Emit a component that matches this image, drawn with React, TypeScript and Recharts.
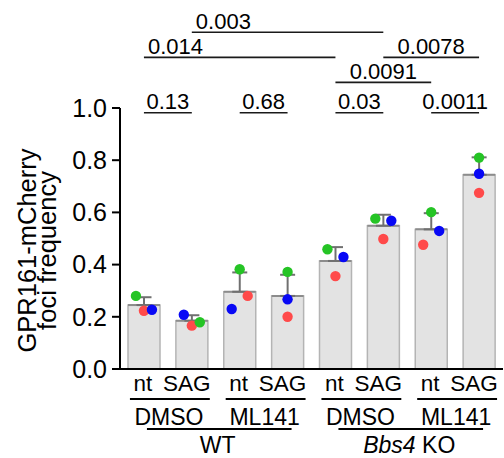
import React from 'react';
import {
  ComposedChart,
  Bar,
  ErrorBar,
  Scatter,
  XAxis,
  YAxis,
  ReferenceLine,
} from 'recharts';

// ---------- data ----------
const categories = [
  'WT DMSO nt',
  'WT DMSO SAG',
  'WT ML141 nt',
  'WT ML141 SAG',
  'KO DMSO nt',
  'KO DMSO SAG',
  'KO ML141 nt',
  'KO ML141 SAG',
];
const treatmentLabels = ['nt', 'SAG', 'nt', 'SAG', 'nt', 'SAG', 'nt', 'SAG'];

const means = [0.245, 0.185, 0.296, 0.28, 0.414, 0.549, 0.535, 0.744];
const sds = [0.03, 0.021, 0.074, 0.081, 0.053, 0.042, 0.062, 0.067];

const greenDots = [0.28, 0.179, 0.382, 0.372, 0.459, 0.576, 0.601, 0.81];
const redDots = [0.223, 0.166, 0.28, 0.2, 0.356, 0.498, 0.476, 0.675];
const blueDots = [0.227, 0.208, 0.23, 0.267, 0.429, 0.568, 0.529, 0.748];

// horizontal jitter slot of each replicate dot (-1 left, 0 centre, 1 right)
const greenSlot = [-1, 1, 0, 0, -1, -1, 0, 0];
const redSlot = [0, 0, 1, 0, 0, 0, -1, 0];
const blueSlot = [1, -1, -1, 0, 1, 1, 1, 0];

const yTicks = [0, 0.2, 0.4, 0.6, 0.8, 1.0];

// p-value brackets: category indices and bracket height (data units)
const pValueBrackets = [
  { from: 0, to: 1, level: 0.982, text: '0.13' },
  { from: 2, to: 3, level: 0.982, text: '0.68' },
  { from: 4, to: 5, level: 0.982, text: '0.03' },
  { from: 6, to: 7, level: 0.982, text: '0.0011' },
  { from: 4, to: 6, level: 1.098, text: '0.0091' },
  { from: 0, to: 4, level: 1.194, text: '0.014' },
  { from: 5, to: 7, level: 1.194, text: '0.0078' },
  { from: 1, to: 5, level: 1.29, text: '0.003' },
];

const drugGroups = [
  { from: 0, to: 1, text: 'DMSO' },
  { from: 2, to: 3, text: 'ML141' },
  { from: 4, to: 5, text: 'DMSO' },
  { from: 6, to: 7, text: 'ML141' },
];
const genotypeGroups = [
  { from: 0, to: 3, text: 'WT', italic: '' },
  { from: 4, to: 7, text: ' KO', italic: 'Bbs4' },
];

const chartData = categories.map((cat, i) => ({
  cat,
  mean: means[i],
  err: [0, sds[i]],
  green: greenDots[i],
  red: redDots[i],
  blue: blueDots[i],
  gs: greenSlot[i],
  rs: redSlot[i],
  bs: blueSlot[i],
}));

// ---------- styles ----------
const FONT = '"Liberation Sans", Arial, Helvetica, sans-serif';
const JITTER_PX = 8;
const DOT_R = 5.2;
const leftAligned = new Set(['0.014', '0.003']);
const DRUG_LINE_LEVEL = -0.115;
const GENO_LINE_LEVEL = -0.23;

const makeDot = (color: string, slotKey: string) => (p: any) => {
  if (p.cx == null || p.cy == null) return <g />;
  const slot = p.payload ? p.payload[slotKey] : 0;
  return <circle cx={p.cx + slot * JITTER_PX} cy={p.cy} r={DOT_R} fill={color} />;
};

const BarShape = (p: any) => {
  const { x, y, width, height } = p;
  if (x == null || y == null) return <g />;
  return (
    <g>
      <rect x={x} y={y} width={width} height={height} fill="#e3e3e3" stroke="#b4b4b4" strokeWidth={1.5} />
      <line x1={x} y1={y} x2={x + width} y2={y} stroke="#8c8c8c" strokeWidth={2} />
    </g>
  );
};

const pShape = (text: string) => (p: any) => {
  const { x1, y1, x2 } = p;
  const left = leftAligned.has(text);
  return (
    <g>
      <line x1={x1} y1={y1} x2={x2} y2={y1} stroke="#1a1a1a" strokeWidth={1.6} />
      <text
        x={left ? x1 + 4 : (x1 + x2) / 2}
        y={y1 - 3.5}
        textAnchor={left ? 'start' : 'middle'}
        fontSize={22}
        fill="#000"
        fontFamily={FONT}
      >
        {text}
      </text>
    </g>
  );
};

const drugShape = (text: string) => (p: any) => {
  const { x1, y1, x2 } = p;
  return (
    <g>
      <line x1={x1 - 14} y1={y1} x2={x2 + 18} y2={y1} stroke="#000" strokeWidth={2} />
      <text x={(x1 + x2) / 2 + 1} y={y1 + 26} textAnchor="middle" fontSize={23} fill="#000" fontFamily={FONT}>
        {text}
      </text>
    </g>
  );
};

const genoShape = (text: string, italic: string) => (p: any) => {
  const { x1, y1, x2 } = p;
  return (
    <g>
      <line x1={x1 + 3} y1={y1} x2={x2 + 4} y2={y1} stroke="#000" strokeWidth={2} />
      <text x={(x1 + x2) / 2 + 2} y={y1 + 24} textAnchor="middle" fontSize={23} fill="#000" fontFamily={FONT}>
        {italic ? <tspan fontStyle="italic">{italic}</tspan> : null}
        <tspan>{text}</tspan>
      </text>
    </g>
  );
};

const TreatmentTick = (props: any) => {
  const { x, y, payload } = props;
  const idx = categories.indexOf(payload.value);
  const label = treatmentLabels[idx];
  const dx = label === 'SAG' ? -5 : -1;
  return (
    <text x={x + dx} y={y + 21.5} textAnchor="middle" fontSize={22.5} fill="#000" fontFamily={FONT}>
      {label}
    </text>
  );
};

const YTitle = (props: any) => {
  const vb = props.viewBox || { x: 0, y: 108, width: 120, height: 261 };
  const cy = vb.y + vb.height / 2 + 12;
  const x1 = vb.x + 36;
  const x2 = vb.x + 56;
  return (
    <g>
      <text
        x={x1}
        y={cy}
        transform={`rotate(-90, ${x1}, ${cy})`}
        textAnchor="middle"
        fontSize={25.5}
        fill="#000"
        fontFamily={FONT}
      >
        GPR161-mCherry
      </text>
      <text
        x={x2}
        y={cy}
        transform={`rotate(-90, ${x2}, ${cy})`}
        textAnchor="middle"
        fontSize={25.5}
        fill="#000"
        fontFamily={FONT}
      >
        foci frequency
      </text>
    </g>
  );
};

export default function App() {
  return (
    <div style={{ position: 'absolute', left: 0, top: 0, width: 504, height: 458, background: '#fff', fontFamily: FONT }}>
      <ComposedChart
        width={504}
        height={458}
        data={chartData}
        margin={{ top: 108, right: 1, bottom: 59, left: 0 }}
      >
        <XAxis
          dataKey="cat"
          interval={0}
          tickLine={false}
          tickSize={0}
          tickMargin={0}
          height={30}
          axisLine={{ stroke: '#000', strokeWidth: 2 }}
          tick={<TreatmentTick />}
        />
        <YAxis
          width={120}
          domain={[0, 1]}
          ticks={yTicks}
          allowDataOverflow
          tickFormatter={(v: number) => v.toFixed(1)}
          tickSize={8}
          tickMargin={5}
          axisLine={{ stroke: '#000', strokeWidth: 2 }}
          tickLine={{ stroke: '#000', strokeWidth: 2 }}
          tick={{ fill: '#000', fontSize: 25, fontFamily: FONT }}
          label={{ content: YTitle }}
        />
        <Bar dataKey="mean" barSize={32} shape={BarShape} isAnimationActive={false}>
          <ErrorBar
            dataKey="err"
            direction="y"
            width={7.5}
            stroke="#707070"
            strokeWidth={2}
            isAnimationActive={false}
          />
        </Bar>
        <Scatter dataKey="red" shape={makeDot('#ff4a4a', 'rs')} isAnimationActive={false} />
        <Scatter dataKey="green" shape={makeDot('#25c425', 'gs')} isAnimationActive={false} />
        <Scatter dataKey="blue" shape={makeDot('#0808f5', 'bs')} isAnimationActive={false} />
        {pValueBrackets.map((b, i) => (
          <ReferenceLine
            key={'p' + i}
            segment={[
              { x: categories[b.from], y: b.level },
              { x: categories[b.to], y: b.level },
            ]}
            ifOverflow="visible"
            shape={pShape(b.text)}
          />
        ))}
        {drugGroups.map((g, i) => (
          <ReferenceLine
            key={'d' + i}
            segment={[
              { x: categories[g.from], y: DRUG_LINE_LEVEL },
              { x: categories[g.to], y: DRUG_LINE_LEVEL },
            ]}
            ifOverflow="visible"
            shape={drugShape(g.text)}
          />
        ))}
        {genotypeGroups.map((g, i) => (
          <ReferenceLine
            key={'g' + i}
            segment={[
              { x: categories[g.from], y: GENO_LINE_LEVEL },
              { x: categories[g.to], y: GENO_LINE_LEVEL },
            ]}
            ifOverflow="visible"
            shape={genoShape(g.text, g.italic)}
          />
        ))}
      </ComposedChart>
    </div>
  );
}
